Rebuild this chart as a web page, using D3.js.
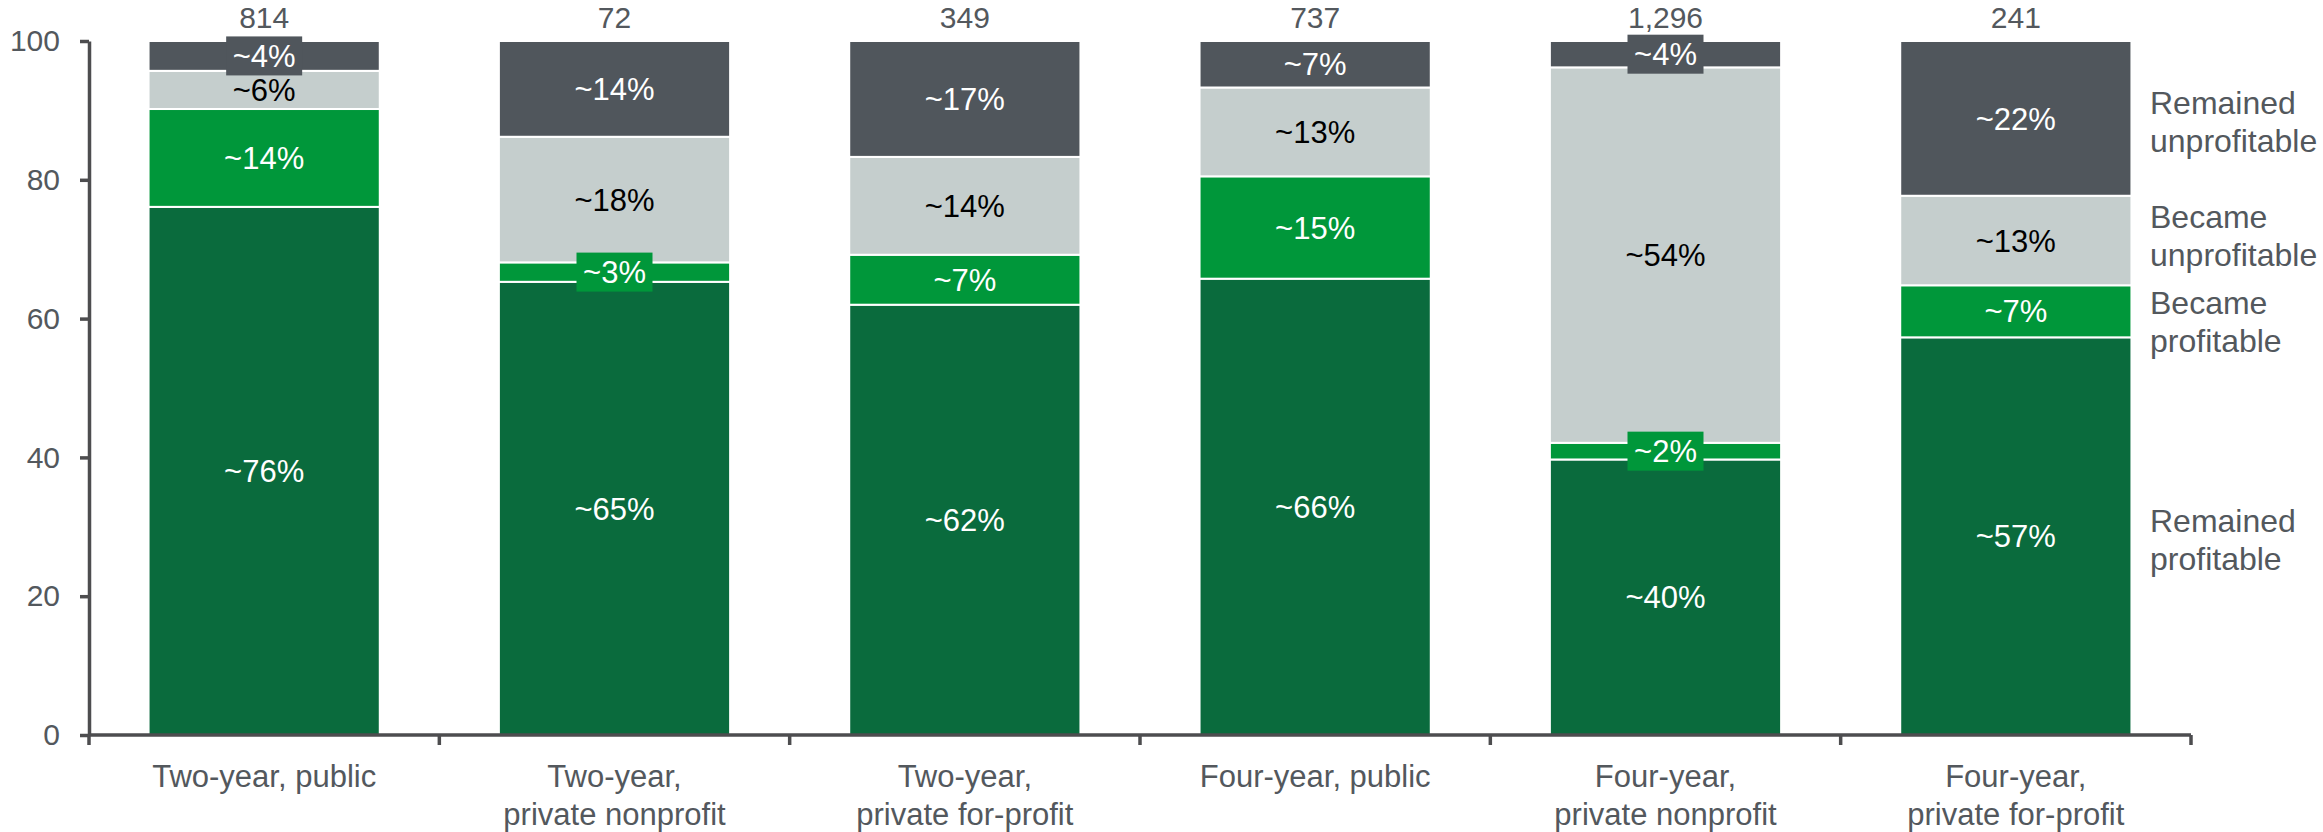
<!DOCTYPE html>
<html>
<head>
<meta charset="utf-8">
<script src="https://cdn.jsdelivr.net/npm/d3@7"></script>
<style>
  body { margin: 0; background: #fff; }
  text { font-family: "Liberation Sans", Arial, sans-serif; }
</style>
</head>
<body>
<div id="chart"></div>
<script>
// data
const categories = ["Two-year, public", "Two-year, private nonprofit", "Two-year, private for-profit",
                    "Four-year, public", "Four-year, private nonprofit", "Four-year, private for-profit"];
const totals = [814, 72, 349, 737, 1296, 241];

const remainedProfitable   = [76.1, 65.3, 62.0, 65.75, 39.7, 57.3];
const becameProfitable     = [14.1, 2.8, 7.2, 14.75, 2.4, 7.5];
const becameUnprofitable   = [5.5, 18.1, 14.1, 12.8, 54.1, 12.9];
const remainedUnprofitable = [4.3, 13.8, 16.7, 6.7, 3.8, 22.3];

// printed labels
const labelRP = [76, 65, 62, 66, 40, 57];
const labelBP = [14, 3, 7, 15, 2, 7];
const labelBU = [6, 18, 14, 13, 54, 13];
const labelRU = [4, 14, 17, 7, 4, 22];

const seriesNames = ["Remained profitable", "Became profitable", "Became unprofitable", "Remained unprofitable"];
const yTicks = [0, 20, 40, 60, 80, 100];

const width = 2323, height = 832;
const colors = { "Remained profitable": "#0a6b3d", "Became profitable": "#00973a",
                 "Became unprofitable": "#c5cecd", "Remained unprofitable": "#50565c" };
const textColors = { "Remained profitable": "#fff", "Became profitable": "#fff",
                     "Became unprofitable": "#000", "Remained unprofitable": "#fff" };
const axisColor = "#4d4d4f";
const labelColor = "#53585d";

const rows = categories.map((c, i) => ({
  cat: c,
  "Remained profitable": remainedProfitable[i],
  "Became profitable": becameProfitable[i],
  "Became unprofitable": becameUnprofitable[i],
  "Remained unprofitable": remainedUnprofitable[i]
}));
const labelsBySeries = {
  "Remained profitable": labelRP, "Became profitable": labelBP,
  "Became unprofitable": labelBU, "Remained unprofitable": labelRU
};

const svg = d3.select("#chart").append("svg")
  .attr("width", width)
  .attr("height", height);

const x = d3.scaleBand().domain(categories).range([89, 2191]).padding(0);
const y = d3.scaleLinear().domain([0, 100]).range([735, 41]);
const barW = x.bandwidth() * 0.66;
const barX = d => x(d) + (x.bandwidth() - barW) / 2;

const stacked = d3.stack().keys(seriesNames)(rows);

// bars
const layer = svg.append("g").selectAll("g")
  .data(stacked)
  .enter().append("g")
  .attr("fill", d => colors[d.key]);

layer.selectAll("rect")
  .data(d => d.map(p => ({ key: d.key, p: p })))
  .enter().append("rect")
  .attr("x", d => barX(d.p.data.cat))
  .attr("y", d => y(d.p[1]))
  .attr("width", barW)
  .attr("height", d => y(d.p[0]) - y(d.p[1]))
  .attr("stroke", "#fff")
  .attr("stroke-width", 2);

// segment labels (small ones get a badge)
const segs = [];
stacked.forEach(s => s.forEach((p, i) => segs.push({ key: s.key, p: p, i: i, v: p[1] - p[0] })));

const segG = svg.append("g").selectAll("g")
  .data(segs)
  .enter().append("g")
  .attr("transform", d => `translate(${x(d.p.data.cat) + x.bandwidth() / 2},${(y(d.p[0]) + y(d.p[1])) / 2})`);

segG.filter(d => d.v < 5).append("rect")
  .attr("x", -38).attr("y", -19.5)
  .attr("width", 76).attr("height", 39)
  .attr("fill", d => colors[d.key]);

segG.append("text")
  .attr("text-anchor", "middle")
  .attr("dy", "0.36em")
  .attr("font-size", 31)
  .attr("fill", d => textColors[d.key])
  .text(d => "~" + labelsBySeries[d.key][d.i] + "%");

// totals above bars
svg.append("g").selectAll("text")
  .data(categories)
  .enter().append("text")
  .attr("x", d => x(d) + x.bandwidth() / 2)
  .attr("y", 28)
  .attr("text-anchor", "middle")
  .attr("font-size", 30)
  .attr("fill", labelColor)
  .text((d, i) => d3.format(",")(totals[i]));

// y axis
const yAxis = svg.append("g")
  .attr("transform", "translate(89,0)")
  .call(d3.axisLeft(y).tickValues(yTicks).tickSize(9).tickSizeOuter(0).tickPadding(20));
yAxis.select(".domain").attr("stroke", axisColor).attr("stroke-width", 3.5);
yAxis.selectAll(".tick line").attr("stroke", axisColor).attr("stroke-width", 3.5);
yAxis.selectAll(".tick text").attr("font-size", 30).attr("fill", labelColor)
  .attr("font-family", "'Liberation Sans', Arial, sans-serif");

// x axis line and group separators
const xEnd = x.range()[1];
svg.append("line")
  .attr("x1", x.range()[0]).attr("x2", xEnd)
  .attr("y1", y(0)).attr("y2", y(0))
  .attr("stroke", axisColor).attr("stroke-width", 3.5);
svg.append("g").selectAll("line")
  .data(categories.map(c => x(c)).concat([xEnd]))
  .enter().append("line")
  .attr("x1", d => d).attr("x2", d => d)
  .attr("y1", y(0)).attr("y2", y(0) + 10)
  .attr("stroke", axisColor).attr("stroke-width", 3.5);

// category labels
const catG = svg.append("g").selectAll("text")
  .data(categories)
  .enter().append("text")
  .attr("text-anchor", "middle")
  .attr("font-size", 31)
  .attr("fill", labelColor);
catG.each(function(d) {
  const parts = d.includes("public") ? [d] : [d.split(", ")[0] + ",", d.split(", ")[1]];
  const t = d3.select(this);
  parts.forEach((line, k) => {
    t.append("tspan")
      .attr("x", x(d) + x.bandwidth() / 2)
      .attr("y", 787 + k * 38)
      .text(line);
  });
});

// legend at the right, aligned to the last bar's segments
const last = stacked.map(s => ({ key: s.key, mid: y((s[s.length - 1][0] + s[s.length - 1][1]) / 2) + 3 }));
last.sort((a, b) => a.mid - b.mid);
// spread overlapping labels apart symmetrically
for (let iter = 0; iter < 20; iter++) {
  for (let k = 1; k < last.length; k++) {
    const gap = last[k].mid - last[k - 1].mid;
    if (gap < 86) {
      const push = (86 - gap) / 2;
      last[k].mid += push;
      last[k - 1].mid -= push;
    }
  }
}
const legend = svg.append("g").selectAll("text")
  .data(last)
  .enter().append("text")
  .attr("font-size", 32)
  .attr("fill", labelColor);
legend.each(function(d) {
  const words = d.key.split(" ");
  const t = d3.select(this);
  words.forEach((w, k) => {
    t.append("tspan")
      .attr("x", 2150)
      .attr("y", d.mid - 19 + k * 38)
      .attr("dy", "0.36em")
      .text(w);
  });
});
</script>
</body>
</html>
